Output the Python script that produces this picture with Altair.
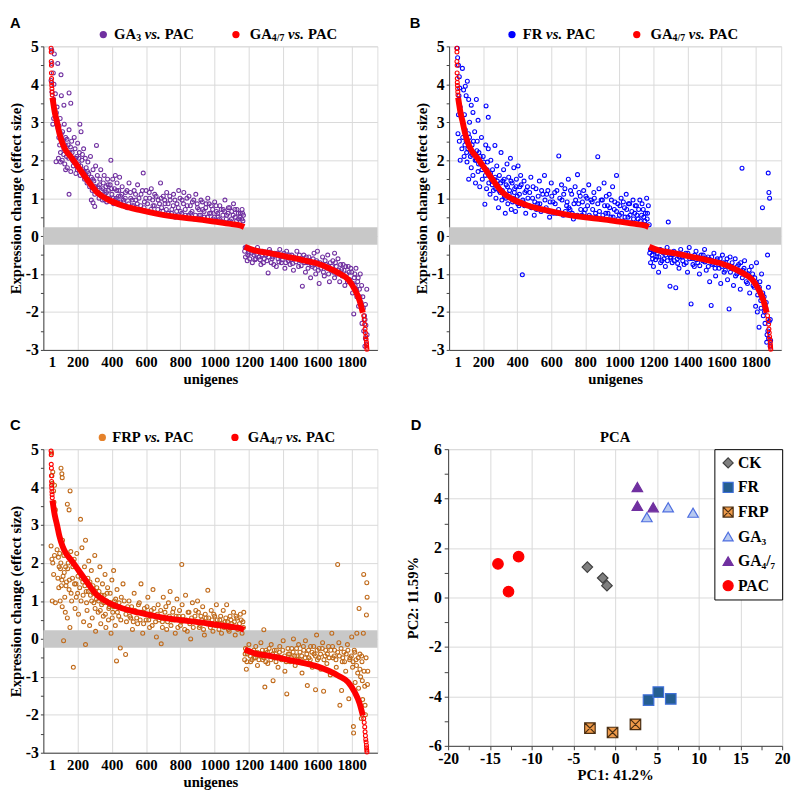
import altair as alt
import pandas as pd

SERIF = "Liberation Serif, Times New Roman, Times, DejaVu Serif, serif"
SANS = "Liberation Sans, Arial, DejaVu Sans, sans-serif"

# ---------------- axis ticks ----------------
X_TICKS = [50, 200, 400, 600, 800, 1000, 1200, 1400, 1600, 1800]
Y_TICKS = [-3, -2.5, -2, -1.5, -1, -0.5, 0, 0.5, 1, 1.5, 2, 2.5, 3, 3.5, 4, 4.5, 5]
BAND = [-0.23, 0.23]
PX_TICKS = [-20, -17.5, -15, -12.5, -10, -7.5, -5, -2.5, 0, 2.5, 5, 7.5, 10, 12.5, 15, 17.5, 20]
PY_TICKS = [-6, -5, -4, -3, -2, -1, 0, 1, 2, 3, 4, 5, 6]

# ---------------- GA4/7 vs. PAC (red, shared by A, B, C) ----------------
RED_TOP_X = [45, 46, 46, 47, 47, 48, 48, 49, 50, 51, 52]
RED_TOP_Y = [4.95, 4.85, 4.6, 4.5, 4.3, 4.15, 4.05, 3.97, 3.88, 3.8, 3.72]
RED_POS_X = [53, 58, 65, 72, 80, 93, 112, 131, 160, 202, 255, 312, 370, 465, 560, 674, 789, 903, 998, 1093, 1150, 1172]
RED_POS_Y = [3.65, 3.5, 3.3, 3.15, 3.0, 2.72, 2.44, 2.26, 2.09, 1.83, 1.49, 1.16, 0.98, 0.80, 0.69, 0.58, 0.50, 0.44, 0.38, 0.32, 0.28, 0.24]
RED_NEG_X = [1175, 1227, 1322, 1417, 1512, 1589, 1665, 1722, 1779, 1817, 1846, 1865]
RED_NEG_Y = [-0.28, -0.37, -0.45, -0.54, -0.63, -0.71, -0.84, -0.97, -1.14, -1.40, -1.70, -2.02]
RED_END_X = [1870, 1873, 1876, 1878, 1880, 1882, 1884, 1886, 1887, 1888, 1889]
RED_END_Y = [-2.1, -2.2, -2.32, -2.45, -2.55, -2.65, -2.72, -2.8, -2.87, -2.93, -2.98]

# ---------------- GA3 vs. PAC (panel A) ----------------
A_PTS = [
    (49, 4.9), (64, 4.8), (50, 4.55), (84, 4.55), (58, 4.3), (103, 4.25), (45, 4.1), (62, 4.0), (50, 3.8),
    (70, 3.75), (105, 3.7), (150, 3.77), (60, 3.6), (160, 3.5), (80, 3.4), (120, 3.45), (76, 3.25), (60, 3.1),
    (55, 2.95), (98, 3.1), (122, 2.95), (85, 2.85),
    (90, 2.6), (95, 2.4), (100, 2.2), (105, 2.7), (110, 2.0), (115, 2.5), (120, 2.3), (125, 1.9), (130, 2.6),
    (135, 2.1), (140, 1.8), (145, 2.4), (150, 2.8), (155, 2.2), (160, 1.7), (165, 2.5), (170, 2.0), (175, 1.85),
    (180, 2.6), (185, 2.3), (190, 1.65), (195, 2.1), (200, 2.45), (205, 1.9), (210, 2.2), (215, 1.6), (220, 2.75),
    (225, 2.0), (230, 1.75), (235, 2.3), (240, 1.5), (245, 2.05), (250, 1.8), (255, 1.4), (260, 1.95), (265, 1.65),
    (270, 1.3), (275, 2.1), (280, 1.55), (285, 1.2), (290, 1.75), (295, 1.45), (300, 1.1), (305, 1.85), (310, 2.39),
    (150, 1.1), (74, 1.96), (100, 1.95), (213, 2.95), (88, 2.05), (130, 1.75),
    (315, 1.6), (320, 1.3), (325, 1.0), (330, 1.5), (335, 1.75), (340, 1.2), (345, 0.95), (350, 1.4), (355, 1.6),
    (360, 1.1), (365, 1.3), (370, 0.9), (375, 1.5), (380, 1.2), (385, 1.0), (390, 1.35), (394, 2.0), (400, 1.1),
    (405, 1.5), (410, 0.85), (415, 1.25), (420, 1.6), (425, 1.0), (430, 1.4), (435, 0.9), (440, 1.2), (445, 1.55),
    (450, 1.05), (290, 0.88), (280, 0.95), (300, 0.78),
    (460, 1.3), (470, 0.9), (480, 1.15), (490, 0.75), (500, 1.4), (510, 1.0), (520, 0.8), (530, 1.2), (540, 0.95),
    (550, 1.35), (560, 0.7), (570, 1.1), (583, 1.66), (590, 0.9), (600, 1.2), (610, 0.65), (620, 1.0), (630, 1.25),
    (640, 0.8), (650, 1.1), (660, 0.6), (670, 0.95), (684, 1.4), (690, 0.75), (700, 1.05),
    (710, 0.85), (720, 1.15), (730, 0.6), (740, 0.95), (750, 0.7), (760, 1.1), (770, 0.5), (780, 0.85), (790, 1.2),
    (800, 0.65), (810, 0.95), (820, 1.15), (830, 0.55), (840, 0.8), (850, 1.05), (860, 0.6), (870, 0.9), (880, 0.45),
    (890, 1.1), (900, 0.75), (910, 0.55), (920, 0.95), (930, 0.7), (940, 0.5), (950, 0.85), (960, 1.0), (970, 0.6),
    (980, 0.8), (990, 0.45),
    (1000, 0.9), (1010, 0.65), (1020, 0.5), (1030, 0.8), (1040, 0.4), (1050, 0.7), (1060, 0.95), (1070, 0.55),
    (1080, 0.75), (1090, 0.4), (1100, 0.65), (1110, 0.85), (1120, 0.5), (1130, 0.7), (1140, 0.45), (1150, 0.6),
    (1160, 0.7), (1165, 0.4), (1168, 0.55),
    (1175, -0.4), (1180, -0.55), (1185, -0.3), (1190, -0.65), (1200, -0.45), (1210, -0.35), (1220, -0.7),
    (1230, -0.5), (1240, -0.6), (1250, -0.3), (1260, -0.55), (1270, -0.75), (1280, -0.4), (1290, -0.6), (1300, -0.5),
    (1312, -0.97), (1320, -0.35), (1330, -0.7), (1340, -0.55), (1350, -0.45), (1360, -0.8), (1370, -0.6),
    (1380, -0.35), (1390, -0.7), (1400, -0.5), (1410, -0.85), (1420, -0.4), (1430, -0.65), (1440, -0.75),
    (1450, -0.5), (1460, -0.9), (1470, -0.6), (1480, -0.4), (1490, -0.8), (1500, -0.65), (1512, -1.32), (1520, -0.5),
    (1530, -0.95), (1540, -0.7), (1550, -0.55), (1560, -1.1), (1570, -0.8), (1580, -0.45), (1590, -1.0), (1600, -0.7),
    (1610, -1.25), (1620, -0.85), (1630, -0.55), (1640, -1.05), (1650, -0.75), (1660, -0.5), (1670, -1.2),
    (1680, -0.9), (1690, -0.65), (1700, -1.1), (1710, -0.8), (1720, -0.6), (1730, -1.2), (1741, -0.88), (1750, -0.75),
    (1760, -1.3), (1770, -1.0), (1780, -0.8), (1790, -1.15), (1800, -0.95), (1805, -1.5), (1812, -2.05),
    (1815, -1.1), (1820, -1.3), (1825, -0.85), (1830, -1.6), (1835, -1.2), (1840, -1.85), (1845, -1.4), (1850, -1.0),
    (1855, -1.75), (1860, -2.3), (1865, -1.6), (1870, -2.5), (1875, -2.1), (1880, -2.7), (1883, -2.35),
    (1886, -2.85), (1890, -2.6), (1888, -1.4), (1880, -1.8), (1877, -2.9), (1600, -0.4), (1700, -0.45),
]
A_PTS_DENSE = [
    (92, 2.9), (102, 2.55), (112, 2.75), (118, 2.15), (128, 2.4), (138, 2.55), (148, 2.05), (158, 2.35), (168, 2.2),
    (178, 1.95), (188, 2.05), (198, 1.75), (208, 2.05), (218, 1.85), (228, 2.15), (238, 1.7), (248, 1.6), (258, 1.7),
    (268, 1.45), (278, 1.35), (288, 1.5), (298, 1.3),
    (305, 1.3), (318, 1.15), (328, 1.35), (338, 1.05), (348, 1.25), (358, 0.95), (368, 1.15), (378, 1.35), (388, 0.95),
    (398, 1.25), (408, 1.0), (418, 0.95), (428, 1.2), (438, 1.05), (448, 0.9), (458, 1.1), (468, 0.95), (478, 1.0),
    (488, 1.2), (498, 0.85), (508, 1.15), (518, 0.95), (528, 0.8), (538, 1.1), (548, 0.85), (558, 1.0), (568, 0.8),
    (578, 1.2), (588, 0.75), (598, 1.0), (608, 0.85), (618, 1.15), (628, 0.7), (638, 0.95), (648, 0.8), (658, 1.05),
    (668, 0.7), (678, 0.85), (688, 1.0), (698, 0.65), (708, 0.95), (718, 0.7), (728, 0.85), (738, 1.05), (748, 0.6),
    (758, 0.8), (768, 0.95), (778, 0.65), (788, 0.75), (798, 1.0), (808, 0.6), (818, 0.85), (828, 0.7), (838, 1.0),
    (848, 0.55), (858, 0.8), (868, 0.65), (878, 0.95), (888, 0.55), (898, 0.85), (908, 0.7), (918, 0.55), (928, 0.9),
    (938, 0.65), (948, 0.75), (958, 0.5), (968, 0.85), (978, 0.6), (988, 0.7), (998, 0.5), (1008, 0.8), (1018, 0.6),
    (1028, 0.45), (1038, 0.7), (1048, 0.55), (1058, 0.65), (1068, 0.45), (1078, 0.6), (1088, 0.75), (1098, 0.45),
    (1108, 0.55), (1118, 0.7), (1128, 0.4), (1138, 0.6), (1148, 0.5), (1158, 0.45), (1163, 0.6),
    (1178, -0.3), (1193, -0.5), (1205, -0.6), (1215, -0.45), (1225, -0.38), (1235, -0.62), (1245, -0.48),
    (1255, -0.4), (1265, -0.62), (1275, -0.5), (1285, -0.7), (1295, -0.42), (1305, -0.65), (1315, -0.55),
    (1325, -0.42), (1335, -0.6), (1345, -0.75), (1355, -0.5), (1365, -0.45), (1375, -0.68), (1385, -0.55),
    (1395, -0.62), (1405, -0.45), (1415, -0.7), (1425, -0.58), (1435, -0.5), (1445, -0.62), (1455, -0.72),
    (1465, -0.55), (1475, -0.68), (1485, -0.6), (1495, -0.5), (1505, -0.78), (1515, -0.6), (1525, -0.7),
    (1535, -0.55), (1545, -0.85), (1555, -0.65), (1565, -0.75), (1575, -0.6), (1585, -0.85), (1595, -0.65),
    (1605, -0.9), (1615, -0.7), (1625, -0.75), (1635, -0.95), (1645, -0.65), (1655, -0.85), (1665, -1.0),
    (1675, -0.7), (1685, -0.8), (1695, -0.95), (1705, -0.7), (1715, -1.0), (1725, -0.9), (1735, -0.75),
    (1745, -1.05), (1755, -0.9), (1765, -0.8), (1775, -1.2), (1785, -0.95), (1795, -0.85), (1808, -1.25),
    (1818, -1.0), (1828, -1.4), (1838, -1.1), (1848, -1.6), (1858, -1.3), (1868, -1.9), (1878, -2.2),
]

# ---------------- FR vs. PAC (panel B) ----------------
B_PTS = [
    (48, 4.95), (50, 4.7), (55, 4.5), (60, 4.2), (78, 4.42), (107, 4.08), (95, 3.95), (62, 3.9), (58, 3.7),
    (85, 3.85), (100, 3.7), (115, 3.6), (130, 3.45), (140, 3.26), (160, 3.6), (217, 3.43), (230, 3.13), (170, 3.05),
    (120, 3.0), (90, 3.2), (65, 3.4), (55, 3.2), (52, 2.7), (60, 2.5), (65, 2.0), (75, 2.3), (80, 2.6), (88, 2.1),
    (95, 2.8), (100, 2.5), (105, 1.95), (110, 2.3), (115, 1.5), (120, 2.6), (125, 2.1), (130, 1.8), (135, 2.4),
    (140, 1.6), (145, 2.2), (150, 2.75), (155, 1.4), (160, 2.0), (165, 2.5), (170, 1.7), (175, 2.2), (180, 1.3),
    (185, 1.9), (190, 2.6), (195, 1.5), (200, 2.1), (205, 1.8), (210, 0.84), (215, 2.4), (220, 1.25), (225, 1.95),
    (230, 2.3), (235, 1.6), (240, 1.1), (245, 2.0), (250, 1.45), (255, 1.75), (260, 1.2), (269, 2.39), (270, 1.55),
    (275, 1.0), (280, 1.85), (285, 1.3), (290, 0.75), (295, 1.6), (300, 1.15), (305, 2.2), (310, 0.95), (315, 1.45),
    (320, 1.75), (325, 1.05), (330, 0.6), (335, 1.35), (340, 1.9), (345, 0.85), (350, 1.55), (355, 1.2), (360, 2.05),
    (365, 0.7), (370, 1.4), (375, 1.0), (380, 1.8), (385, 1.25), (390, 0.65), (395, 1.5), (400, 1.05), (405, 1.85),
    (410, 0.8), (415, 1.3), (420, 1.6), (430, -1.02), (435, 0.9), (440, 1.45), (445, 1.15), (450, 0.6),
    (460, 1.3), (470, 0.8), (480, 1.55), (490, 1.0), (500, 0.55), (510, 1.25), (520, 0.85), (530, 1.45), (540, 0.65),
    (550, 1.1), (560, 1.6), (570, 0.75), (580, 1.2), (590, 0.5), (600, 1.4), (610, 0.9), (620, 1.15), (630, 0.6),
    (644, 2.11), (650, 1.0), (660, 1.35), (670, 0.55), (680, 1.25), (690, 0.8), (700, 1.5),
    (710, 0.7), (720, 1.1), (730, 0.45), (740, 1.3), (754, 1.62), (760, 0.85), (770, 1.05), (780, 0.55), (790, 1.2),
    (800, 0.7), (810, 1.0), (820, 1.35), (830, 0.5), (840, 0.9), (850, 1.15), (860, 0.6), (873, 2.09), (880, 1.25),
    (890, 0.45), (900, 0.95), (910, 1.4), (920, 0.6), (930, 0.8), (940, 1.1), (950, 0.5), (960, 1.3), (970, 0.7),
    (983, 1.6), (990, 0.85),
    (1000, 0.55), (1010, 1.0), (1020, 0.4), (1030, 0.75), (1040, 1.1), (1050, 0.5), (1060, 0.85), (1070, 0.35),
    (1080, 0.95), (1090, 0.6), (1100, 0.8), (1110, 0.45), (1120, 0.95), (1130, 0.55), (1140, 0.7), (1150, 0.4),
    (1160, 1.0), (1165, 0.6), (1170, 0.8), (1175, 0.3), (1287, 0.37),
    (1178, -0.45), (1183, -0.7), (1188, -0.35), (1195, -0.6), (1200, -0.8), (1210, -0.4), (1220, -0.55),
    (1230, -0.95), (1240, -0.35), (1250, -0.65), (1260, -0.45), (1270, -0.8), (1280, -0.3), (1297, -1.32),
    (1300, -0.55), (1310, -0.7), (1320, -0.4), (1331, -1.36), (1340, -0.6), (1350, -0.85), (1360, -0.35),
    (1370, -0.55), (1380, -0.75), (1390, -0.45), (1400, -0.95), (1410, -0.3), (1421, -1.79), (1430, -0.6),
    (1440, -0.8), (1450, -0.4), (1460, -0.7), (1470, -1.0), (1480, -0.5), (1490, -0.65), (1500, -0.35), (1510, -0.9),
    (1520, -0.55), (1530, -1.2), (1539, -1.83), (1545, -0.75), (1555, -0.45), (1565, -1.05), (1575, -0.6),
    (1585, -0.85), (1595, -1.25), (1605, -0.5), (1615, -0.95), (1625, -0.7), (1635, -1.15), (1644, -1.92),
    (1650, -0.55), (1660, -0.85), (1670, -1.3), (1680, -0.6), (1690, -1.0), (1700, -0.75), (1710, -1.4),
    (1720, 1.79), (1725, -0.9), (1735, -0.65), (1745, -1.2), (1755, -1.0), (1765, -1.5), (1775, -0.8), (1785, -1.3),
    (1795, -1.1), (1800, -1.85), (1805, -0.7), (1810, -2.0), (1815, -1.4), (1820, -2.4), (1825, -1.2), (1830, -1.7),
    (1835, -1.0), (1840, 0.75), (1845, -2.1), (1850, -1.6), (1855, -2.3), (1860, -1.9), (1865, -2.8), (1870, -0.5),
    (1872, -2.5), (1874, 1.66), (1876, -2.7), (1878, 1.15), (1880, -2.25), (1882, 1.0), (1885, -2.9), (1888, -2.75),
    (1886, -2.2), (1875, -1.35),
]
B_PTS_DENSE = [
    (93, 2.4), (103, 2.2), (113, 2.7), (123, 2.35), (133, 2.15), (143, 2.5), (153, 2.0), (163, 2.25), (173, 1.9),
    (183, 2.1), (193, 1.75), (203, 1.95), (213, 1.6), (223, 1.75), (233, 1.4), (243, 1.65), (253, 1.35), (263, 1.5),
    (273, 1.25), (283, 1.45), (293, 1.2),
    (303, 1.4), (313, 1.2), (323, 1.5), (333, 1.0), (343, 1.3), (353, 1.1), (363, 1.45), (373, 0.9), (383, 1.15),
    (393, 1.3), (403, 0.85), (413, 1.1), (423, 1.35), (433, 0.95), (443, 0.8), (453, 1.2), (463, 1.0), (473, 1.15),
    (483, 0.75), (493, 1.3), (503, 0.9), (513, 0.7), (523, 1.05), (533, 0.85), (543, 1.2), (553, 0.7), (563, 0.95),
    (573, 1.1), (583, 0.65), (593, 0.9), (603, 1.05), (613, 0.6), (623, 0.85), (633, 1.2), (643, 0.7), (653, 0.6),
    (663, 0.95), (673, 1.1), (683, 0.65), (693, 0.9), (703, 0.75), (713, 1.2), (723, 0.6), (733, 0.85), (743, 0.95),
    (753, 0.55), (763, 1.15), (773, 0.7), (783, 0.9), (793, 0.6), (803, 1.05), (813, 0.8), (823, 0.55), (833, 0.95),
    (843, 0.7), (853, 1.0), (863, 0.5), (873, 0.85), (883, 0.65), (893, 0.95), (903, 0.55), (913, 0.8), (923, 1.05),
    (933, 0.6), (943, 0.75), (953, 0.95), (963, 0.5), (973, 0.9), (983, 0.65), (993, 0.45), (1003, 0.8), (1013, 0.6),
    (1023, 0.9), (1033, 0.5), (1043, 0.7), (1053, 0.85), (1063, 0.55), (1073, 0.65), (1083, 0.45), (1093, 0.8),
    (1103, 0.55), (1113, 0.7), (1123, 0.4), (1133, 0.85), (1143, 0.5), (1153, 0.6), (1163, 0.45),
    (1182, -0.35), (1192, -0.5), (1202, -0.4), (1212, -0.62), (1222, -0.45), (1232, -0.55), (1242, -0.7),
    (1252, -0.42), (1262, -0.6), (1272, -0.5), (1282, -0.65), (1292, -0.42), (1302, -0.58), (1312, -0.5),
    (1322, -0.65), (1332, -0.45), (1342, -0.72), (1352, -0.55), (1362, -0.48), (1372, -0.65), (1382, -0.52),
    (1392, -0.7), (1402, -0.45), (1412, -0.6), (1422, -0.55), (1432, -0.75), (1442, -0.5), (1452, -0.62),
    (1462, -0.55), (1472, -0.78), (1482, -0.6), (1492, -0.5), (1502, -0.68), (1512, -0.6), (1522, -0.8),
    (1532, -0.62), (1542, -0.55), (1552, -0.72), (1562, -0.85), (1572, -0.65), (1582, -0.75), (1592, -0.6),
    (1602, -0.8), (1612, -0.7), (1622, -0.9), (1632, -0.6), (1642, -0.78), (1652, -0.95), (1662, -0.7),
    (1672, -0.85), (1682, -1.05), (1692, -0.8), (1702, -0.95), (1712, -0.7), (1722, -1.1), (1732, -0.85),
    (1742, -1.0), (1752, -1.25), (1762, -0.9), (1772, -1.1), (1782, -1.0), (1792, -1.35), (1802, -1.2),
    (1812, -1.55), (1822, -1.35), (1832, -1.9), (1842, -1.5), (1852, -2.0), (1862, -1.75), (1867, -2.6),
]

# ---------------- FRP vs. PAC (panel C) ----------------
C_PTS = [
    (48, 4.9), (50, 4.3), (52, 4.1), (55, 4.4), (60, 3.9), (62, 3.6), (65, 4.05), (103, 4.5), (108, 4.35),
    (110, 4.25), (156, 3.9), (140, 3.55), (150, 3.4), (70, 3.4), (45, 2.45), (50, 2.1), (55, 2.0), (60, 1.7),
    (52, 1.0), (65, 2.2), (70, 0.95), (80, 2.35), (85, 1.6), (88, 2.15), (90, 1.35), (95, 2.25), (98, 1.0),
    (100, 1.85), (105, 1.4), (110, 0.85), (112, 2.6), (115, 1.65), (118, -0.05), (120, 2.2), (125, 1.1), (128, 0.7),
    (130, 1.9), (135, 1.5), (140, 0.55), (145, 2.0), (150, 1.3), (155, 0.3), (160, 2.3), (165, 1.0), (170, 1.6),
    (175, -0.75), (180, 2.1), (185, 0.8), (190, 1.45), (195, 2.25), (200, 1.2), (205, 0.65), (210, 1.75),
    (217, 3.15), (220, 1.0), (225, 2.4), (230, 1.5), (235, 0.45), (240, 1.9), (246, 2.6), (246, -0.15), (250, 1.25),
    (255, 0.75), (260, 1.6), (265, 2.05), (270, 0.35), (275, 1.15), (280, 1.8), (285, 0.55), (290, 1.4), (295, 0.95),
    (300, 2.2), (305, 0.2), (310, 1.05), (315, 1.55), (320, 0.7), (325, 1.25), (330, 1.9), (335, 0.4), (340, 0.9),
    (345, 1.45), (350, 0.6), (355, 1.15), (360, 1.7), (365, 0.3), (370, 1.0), (375, 1.35), (380, 0.5), (385, 0.85),
    (390, 1.2), (395, 0.15), (400, 1.55), (405, 0.7), (410, 1.8), (415, 1.0), (420, 0.35), (427, -0.58), (430, 1.3),
    (440, 0.6), (449, -0.24), (455, 1.1), (465, 1.45), (470, 0.8), (480, -0.41), (485, 0.45),
    (500, 1.0), (510, 0.55), (520, 0.25), (530, 1.2), (540, 0.7), (550, 0.4), (560, 0.95), (570, 1.45), (580, 0.15),
    (590, 0.8), (600, 0.5), (610, 1.1), (620, 0.3), (630, 0.75), (640, 1.3), (650, 0.6), (660, 0.05), (670, 0.9),
    (688, -0.13), (695, 0.45), (700, 1.1), (710, 0.7), (720, 0.25), (730, 0.95), (740, 1.25), (750, 0.5), (760, 0.8),
    (770, 0.15), (780, 1.05), (790, 0.6), (808, 1.96), (800, 0.35), (810, 0.9), (820, 0.5), (830, 1.15), (840, 0.2),
    (850, 0.7), (860, 0.0), (870, 0.95), (880, 0.45), (890, 0.75), (900, 1.0), (910, 0.3), (920, 0.6), (930, 0.85),
    (940, 0.1), (950, 0.55), (960, 1.28), (970, 0.4), (980, 0.75), (990, 0.2), (1000, 0.6), (1010, 0.9), (1020, 0.35),
    (1030, 0.5), (1040, 0.15), (1050, 0.75), (1060, 0.45), (1070, 0.9), (1080, 0.25), (1090, 0.6), (1100, 0.4),
    (1110, 0.7), (1120, 0.1), (1130, 0.55), (1140, 0.3), (1150, 0.65), (1160, 0.15), (1165, 0.45), (1170, 0.7),
    (1175, -0.55), (1180, -0.25), (1185, -0.8), (1190, -0.4), (1200, -0.15), (1210, -0.6), (1220, -0.35),
    (1230, -0.5), (1240, -0.2), (1250, -0.7), (1260, -0.4), (1270, -0.1), (1280, -0.55), (1287, 0.24), (1293, -1.27),
    (1300, -0.3), (1310, -0.65), (1320, -0.45), (1330, -0.15), (1341, -1.1), (1350, -0.5), (1360, -0.3),
    (1370, -0.75), (1380, -0.2), (1390, -0.55), (1400, -0.05), (1410, -0.85), (1421, -1.45), (1430, -0.4),
    (1440, -0.6), (1450, -0.25), (1460, 0.0), (1470, -0.7), (1480, -0.45), (1490, -0.15), (1500, -0.55),
    (1510, -0.9), (1520, -0.3), (1530, -0.05), (1541, -1.23), (1550, -0.5), (1560, -0.2), (1570, -0.75), (1580, -0.4),
    (1589, -1.34), (1595, 0.1), (1600, -0.55), (1610, -0.25), (1620, -0.8), (1630, -0.1), (1636, -1.38),
    (1645, -0.45), (1655, -0.65), (1665, -0.2), (1675, -0.95), (1684, 0.15), (1690, -0.5), (1700, -0.3),
    (1710, -0.75), (1718, 1.96), (1725, -0.1), (1731, -1.75), (1741, -1.36), (1745, -0.6), (1755, -0.35),
    (1765, -0.85), (1775, -0.15), (1783, -1.58), (1790, -0.5), (1800, 0.05), (1805, -0.75), (1810, -2.31),
    (1811, -2.48), (1815, -0.3), (1820, -1.15), (1825, -0.55), (1830, 0.15), (1835, -0.9), (1840, -1.3), (1843, 0.8),
    (1848, -0.4), (1852, -1.0), (1856, -2.1), (1860, -0.6), (1864, -1.6), (1868, 0.15), (1870, 1.7), (1872, -0.85),
    (1876, -1.25), (1880, -2.0), (1884, -0.5), (1886, 0.63), (1888, 1.48), (1890, 1.1), (1892, -1.2), (1894, -0.85),
    (1878, -1.75),
]
C_PTS_DENSE = [
    (92, 1.9), (102, 2.0), (108, 1.55), (122, 1.75), (132, 1.4), (142, 1.85), (152, 1.55), (162, 1.2), (172, 1.9),
    (182, 1.45), (192, 1.1), (202, 1.65), (212, 1.35), (222, 1.6), (232, 1.15), (242, 1.4), (252, 0.95), (262, 1.25),
    (272, 1.5), (282, 1.0), (292, 1.2), (302, 0.8), (312, 1.35), (322, 1.0), (332, 0.75), (342, 1.15), (352, 0.95),
    (362, 0.65), (372, 1.2), (382, 0.8), (392, 0.95), (402, 0.55), (412, 0.85), (422, 1.05), (432, 0.7), (442, 0.95),
    (452, 0.5), (462, 0.8), (472, 1.0), (482, 0.65), (492, 0.85),
    (505, 0.6), (515, 0.85), (525, 0.45), (535, 0.75), (545, 0.55), (555, 0.9), (565, 0.5), (575, 0.7), (585, 0.4),
    (595, 0.65), (605, 0.85), (615, 0.5), (625, 0.6), (635, 0.35), (645, 0.8), (655, 0.45), (665, 0.65), (675, 0.5),
    (685, 0.75), (695, 0.3), (705, 0.55), (715, 0.85), (725, 0.45), (735, 0.6), (745, 0.35), (755, 0.7), (765, 0.5),
    (775, 0.6), (785, 0.3), (795, 0.75), (805, 0.45), (815, 0.6), (825, 0.25), (835, 0.5), (845, 0.7), (855, 0.4),
    (865, 0.55), (875, 0.3), (885, 0.6), (895, 0.45), (905, 0.7), (915, 0.35), (925, 0.5), (935, 0.25), (945, 0.65),
    (955, 0.4), (965, 0.55), (975, 0.3), (985, 0.5), (995, 0.65), (1005, 0.35), (1015, 0.5), (1025, 0.25),
    (1035, 0.6), (1045, 0.4), (1055, 0.3), (1065, 0.55), (1075, 0.45), (1085, 0.2), (1095, 0.5), (1105, 0.3),
    (1115, 0.45), (1125, 0.6), (1135, 0.25), (1145, 0.4), (1155, 0.5), (1168, 0.3),
    (1178, -0.4), (1188, -0.6), (1198, -0.3), (1208, -0.45), (1218, -0.55), (1228, -0.3), (1238, -0.5),
    (1248, -0.35), (1258, -0.55), (1268, -0.45), (1278, -0.3), (1288, -0.5), (1298, -0.6), (1308, -0.35),
    (1318, -0.25), (1328, -0.55), (1338, -0.4), (1348, -0.3), (1358, -0.6), (1368, -0.45), (1378, -0.35),
    (1388, -0.5), (1398, -0.3), (1408, -0.45), (1418, -0.6), (1428, -0.25), (1438, -0.4), (1448, -0.5),
    (1458, -0.35), (1468, -0.45), (1478, -0.25), (1488, -0.55), (1498, -0.35), (1508, -0.45), (1518, -0.2),
    (1528, -0.5), (1538, -0.4), (1548, -0.3), (1558, -0.55), (1568, -0.35), (1578, -0.2), (1588, -0.45),
    (1598, -0.3), (1608, -0.5), (1618, -0.4), (1628, -0.25), (1638, -0.55), (1648, -0.3), (1658, -0.4),
    (1668, -0.5), (1678, -0.3), (1688, -0.2), (1698, -0.45), (1708, -0.55), (1718, -0.35), (1728, -0.45),
    (1738, -0.25), (1748, -0.5), (1758, -0.6), (1768, -0.4), (1778, -0.3), (1788, -0.55), (1798, -0.45),
    (1808, -0.6), (1818, -0.35), (1828, -0.7), (1838, -0.5), (1848, -0.8), (1858, -0.45), (1862, -1.1),
]

# ---------------- PCA (panel D) ----------------
GROUPS = ["CK", "FR", "FRP", "GA₃", "GA₄/₇", "PAC"]
PCA_GROUP = ["CK", "CK", "CK", "FR", "FR", "FR", "FRP", "FRP", "FRP",
             "GA₃", "GA₃", "GA₃", "GA₄/₇", "GA₄/₇", "GA₄/₇", "PAC", "PAC", "PAC"]
PCA_X = [-3.33, -1.49, -0.98, 4.0, 5.17, 6.66, -3.02, -0.31, 2.43, 3.80, 6.35, 9.33, 2.66, 2.66, 4.55, -14.03, -12.77, -11.56]
PCA_Y = [1.23, 0.79, 0.48, -4.15, -3.83, -4.10, -5.28, -5.46, -5.13, 3.25, 3.65, 3.43, 4.47, 3.71, 3.65, 1.36, 0.24, 1.65]
FRP_PATH = "M-1,-1L1,-1L1,1L-1,1Z M-1,-1L1,1 M1,-1L-1,1"
SHAPES = ["diamond", "square", FRP_PATH, "triangle-up", "triangle-up", "circle"]
FILLS = ["#7F7F7F", "#255E91", "#EE9A4A", "#B7C9F0", "#7030A0", "#FF0000"]
STROKES = ["#404040", "#3E6FD8", "#4A2E12", "#4F6FE0", "#7030A0", "#FF0000"]

PURPLE = "#7030A0"
BLUE = "#0000FF"
ORANGE = "#C06A1A"
ORANGE_LEG = "#E5822B"
RED = "#FF0000"
BORDER = "#404040"
GRID = "#D9D9D9"

W = 340
W_B = 338
H = 309
W_D = 340
H_D = 302
LETTER_Y = -24
LEGEND_Y = -12

# Times-bold-like advance widths (em) used to place legend text pieces
ADV = {'G': .778, 'A': .722, 'P': .611, 'C': .722, 'F': .611, 'R': .722, 'v': .47, 's': .389,
       '.': .25, ' ': .25, '3': .5, '4': .5, '/': .278, '7': .5}


def tw(s, size):
    return sum(ADV.get(c, .5) for c in s) * size


def txt(text, x, y, size=15, style="normal", weight="bold", font=SERIF, align="left", color="black"):
    return alt.Chart(pd.DataFrame({"t": [text]})).mark_text(
        align=align, baseline="middle", font=font, fontSize=size, fontStyle=style,
        fontWeight=weight, color=color
    ).encode(x=alt.value(x), y=alt.value(y), text="t:N")


def legend_item(cx, tx, y, color, parts):
    layers = [alt.Chart(pd.DataFrame({"t": [parts[0][0]]})).mark_point(
        shape="circle", filled=True, size=55, color=color, opacity=1
    ).encode(x=alt.value(cx), y=alt.value(y))]
    x = tx
    for text, kind in parts:
        if kind == "sub":
            layers.append(txt(text, x, y + 4, size=10))
            x += tw(text, 10)
        elif kind == "it":
            layers.append(txt(text, x, y, size=15, style="italic"))
            x += tw(text, 15)
        elif kind == "sp":
            x += tw(" ", 15)
        else:
            layers.append(txt(text, x, y, size=15))
            x += tw(text, 15)
    return layers


xs = alt.Scale(domain=[0, 1950], nice=False, zero=False)
ys = alt.Scale(domain=[-3, 5], nice=False, zero=False)

x_axis = alt.Axis(
    values=X_TICKS, labelExpr="datum.value === 50 ? '1' : '' + datum.value", ticks=False,
    gridOpacity={"condition": {"test": "datum.value === 50", "value": 0}, "value": 1},
    gridColor=GRID, domainColor=BORDER, labelFont=SERIF, labelFontWeight="bold", labelFontSize=15,
    labelColor="black", labelPadding=5, labelOverlap=False, labelFlush=False,
    title="unigenes", titleFont=SERIF, titleFontWeight="bold", titleFontSize=15, titleColor="black",
    titlePadding=2,
)
y_axis = alt.Axis(
    values=Y_TICKS, labelExpr="datum.value % 1 === 0 ? '' + datum.value : ''",
    gridOpacity={"condition": {"test": "datum.value % 1 !== 0", "value": 0}, "value": 1},
    gridColor=GRID, tickSize=3, tickColor=BORDER, domainColor=BORDER, labelFont=SERIF,
    labelFontWeight="bold", labelFontSize=16, labelColor="black", labelPadding=2, labelOverlap=False,
    labelFlush=False, title="Expression change (effect size)", titleFont=SERIF, titleFontWeight="bold",
    titleFontSize=15, titleColor="black", titlePadding=2,
)

red_line_df = pd.DataFrame({
    "x": RED_POS_X + RED_NEG_X,
    "y": RED_POS_Y + RED_NEG_Y,
    "seg": ["pos"] * len(RED_POS_X) + ["neg"] * len(RED_NEG_X),
})
red_pts_df = pd.DataFrame({"x": RED_TOP_X + RED_END_X, "y": RED_TOP_Y + RED_END_Y})


def scatter_panel(pts, color, leg_color, width, letter, letter_x, leg1, leg2):
    df = pd.DataFrame({"x": [p[0] for p in pts], "y": [p[1] for p in pts]})
    X = alt.X("x:Q", scale=xs, axis=x_axis)
    Y = alt.Y("y:Q", scale=ys, axis=y_axis)
    band = alt.Chart(pd.DataFrame({"lo": [BAND[0]], "hi": [BAND[1]]})).mark_rect(
        color="#C8C8C8", opacity=1
    ).encode(y=alt.Y("lo:Q", scale=ys, axis=y_axis), y2="hi:Q", x=alt.value(0), x2=alt.value(width))
    dots = alt.Chart(df).mark_point(shape="circle", filled=False, size=16, strokeWidth=1.1,
                                    color=color, opacity=1).encode(x=X, y=Y)
    red_line = alt.Chart(red_line_df).mark_line(color=RED, strokeWidth=6, interpolate="monotone").encode(
        x=X, y=Y, detail="seg:N")
    red_pts = alt.Chart(red_pts_df).mark_point(shape="circle", filled=False, size=16, strokeWidth=1.1,
                                               color=RED, opacity=1).encode(x=X, y=Y)
    layers = [band, dots, red_line, red_pts]
    layers += legend_item(leg1[0], leg1[1], LEGEND_Y, leg_color, leg1[2])
    layers += legend_item(leg2[0], leg2[1], LEGEND_Y, RED, leg2[2])
    layers.append(txt(letter, letter_x, LETTER_Y, size=15, font=SANS))
    return alt.layer(*layers).properties(width=width, height=H)


GA47 = [("GA", "n"), ("4/7", "sub"), ("", "sp"), ("vs.", "it"), ("", "sp"), ("PAC", "n")]

panel_a = scatter_panel(A_PTS + A_PTS_DENSE, PURPLE, PURPLE, W, "A", -34,
                        (61, 72, [("GA", "n"), ("3", "sub"), ("", "sp"), ("vs.", "it"), ("", "sp"), ("PAC", "n")]),
                        (196, 210, GA47))
panel_b = scatter_panel(B_PTS + B_PTS_DENSE, BLUE, BLUE, W_B, "B", -40,
                        (64, 75, [("FR", "n"), ("", "sp"), ("vs.", "it"), ("", "sp"), ("PAC", "n")]),
                        (191, 205, GA47))
panel_c = scatter_panel(C_PTS + C_PTS_DENSE, ORANGE, ORANGE_LEG, W, "C", -34,
                        (60, 70, [("FRP", "n"), ("", "sp"), ("vs.", "it"), ("", "sp"), ("PAC", "n")]),
                        (195, 208, GA47))

# ---------------- panel D ----------------
pca_df = pd.DataFrame({"group": PCA_GROUP, "pc1": PCA_X, "pc2": PCA_Y})
px_axis = alt.Axis(
    values=PX_TICKS, labelExpr="datum.value % 5 === 0 ? '' + datum.value : ''",
    gridOpacity={"condition": {"test": "datum.value % 5 !== 0", "value": 0}, "value": 1},
    gridColor=GRID, tickSize=4, tickColor=BORDER, domainColor=BORDER, labelFont=SERIF,
    labelFontWeight="bold", labelFontSize=16, labelColor="black", labelPadding=1, labelOverlap=False,
    labelFlush=False, title="PC1: 41.2%", titleFont=SERIF, titleFontWeight="bold", titleFontSize=15,
    titleColor="black", titlePadding=1,
)
py_axis = alt.Axis(
    values=PY_TICKS, labelExpr="datum.value % 2 === 0 ? '' + datum.value : ''",
    gridOpacity={"condition": {"test": "datum.value % 2 !== 0", "value": 0}, "value": 1},
    gridColor=GRID, tickSize=4, tickColor=BORDER, domainColor=BORDER, labelFont=SERIF,
    labelFontWeight="bold", labelFontSize=16, labelColor="black", labelPadding=3, labelOverlap=False,
    labelFlush=False, title="PC2: 11.59%", titleFont=SERIF, titleFontWeight="bold", titleFontSize=15,
    titleColor="black", titlePadding=8,
)
leg = alt.Legend(
    orient="top-right", offset=0, padding=6, strokeColor="black", fillColor="white",
    labelFont=SERIF, labelFontWeight="bold", labelFontSize=16, labelColor="black",
    symbolSize=105, rowPadding=9, symbolStrokeWidth=1.2, labelOffset=2, cornerRadius=0,
)
pca_pts = alt.Chart(pca_df).mark_point(filled=True, size=115, strokeWidth=1.2, opacity=1).encode(
    x=alt.X("pc1:Q", scale=alt.Scale(domain=[-20, 20], nice=False, zero=False), axis=px_axis),
    y=alt.Y("pc2:Q", scale=alt.Scale(domain=[-6, 6], nice=False, zero=False), axis=py_axis),
    shape=alt.Shape("group:N", scale=alt.Scale(domain=GROUPS, range=SHAPES), legend=leg, title=None),
    fill=alt.Fill("group:N", scale=alt.Scale(domain=GROUPS, range=FILLS), legend=leg, title=None),
    stroke=alt.Stroke("group:N", scale=alt.Scale(domain=GROUPS, range=STROKES), legend=leg, title=None),
)
panel_d = alt.layer(
    pca_pts,
    txt("PCA", W_D / 2, LEGEND_Y, size=15, align="center"),
    txt("D", -38, LETTER_Y, size=15, font=SANS),
).properties(width=W_D, height=H_D)

IND = dict(shape="independent", fill="independent", stroke="independent")

row1 = alt.hconcat(panel_a, panel_b, spacing=31)
row2 = alt.hconcat(panel_c, panel_d, spacing=27).resolve_scale(**IND).resolve_legend(**IND)

chart = alt.vconcat(row1, row2, spacing=31).resolve_scale(**IND).resolve_legend(**IND).properties(
    padding={"left": 0, "top": 0, "right": 0, "bottom": 0}
).configure_view(stroke=BORDER, strokeWidth=1).configure(font=SERIF)

chart.save("out.html", embed_options={"renderer": "svg", "actions": False})
